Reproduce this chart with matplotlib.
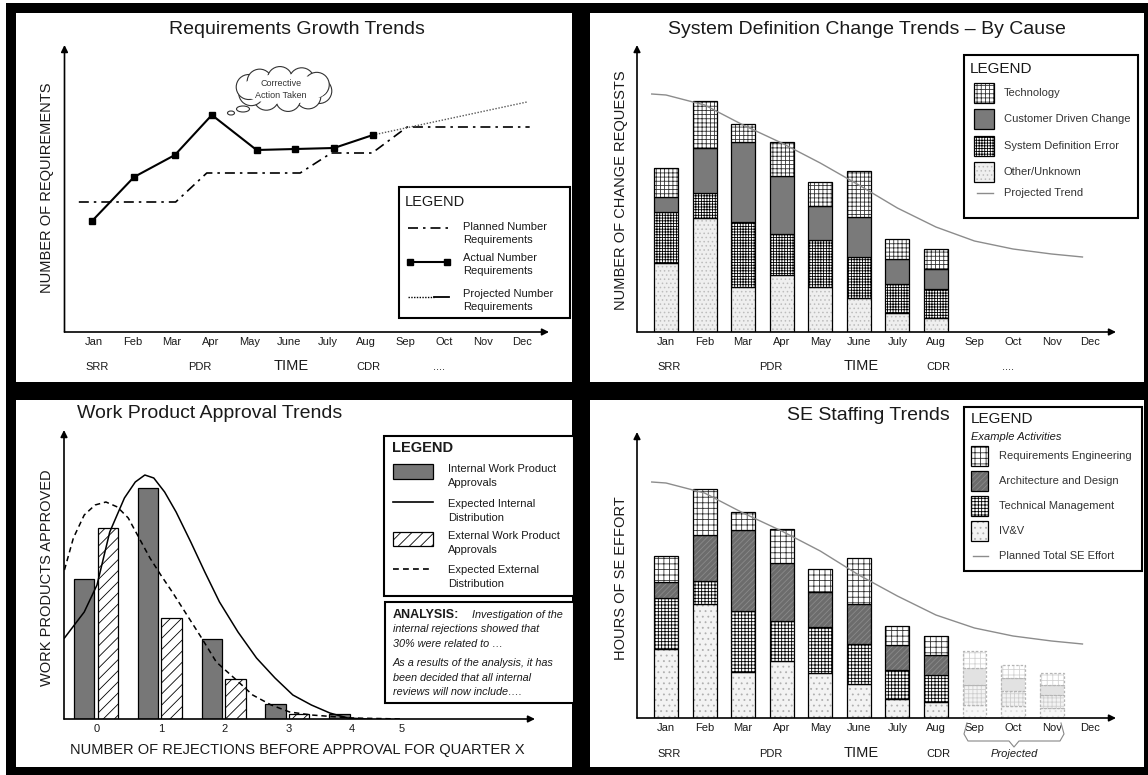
import numpy as np
import matplotlib
matplotlib.use('Agg')
import matplotlib.pyplot as plt
from matplotlib.patches import Rectangle, Ellipse, Circle

plt.rcParams['font.family'] = ['Liberation Sans', 'DejaVu Sans']
plt.rcParams['hatch.linewidth'] = 0.6

W, H = 1148, 775
INK = '#1a1a1a'

# ---------------- data ----------------
months = ['Jan', 'Feb', 'Mar', 'Apr', 'May', 'June', 'July', 'Aug', 'Sep', 'Oct', 'Nov', 'Dec']
milestones = ['SRR', 'PDR', 'CDR', '....']
milestone_x = [0.08, 2.71, 7.06, 8.88]

# requirements growth (relative number of requirements)
actual_x = [-0.05, 1.03, 2.08, 3.03, 4.18, 5.18, 6.17, 7.17]
actual_req = [111, 155, 177, 217, 182, 183, 184, 197]
planned_x = [-0.39, 2.1, 2.9, 5.3, 6.1, 7.15, 8.05, 11.2]
planned_req = [130, 130, 159, 159, 179, 179, 205, 205]
projected_x = [7.17, 11.13]
projected_req = [197, 230]

# system definition change requests by cause (Jan..Aug)
cr_other = [69, 114, 45, 57, 45, 34, 19, 14]
cr_sysdef = [51, 25, 65, 41, 47, 41, 29, 29]
cr_customer = [15, 45, 80, 58, 34, 40, 25, 20]
cr_tech = [29, 47, 18, 34, 24, 46, 20, 20]
cr_trend_x = [-0.37, 0, 1, 2, 3, 4, 5, 6, 7, 8, 9, 10, 10.8]
cr_trend = [238, 237, 227, 207, 189, 169, 147, 124, 105, 91, 83, 78, 75]

# work product approvals
rejections = [0, 1, 2, 3, 4]
internal_appr = [140, 231, 80, 15, 5]
external_appr = [191, 101, 40, 5]
rej_ticks = ['0', '1', '2', '3', '4', '5']
rej_tick_x = [0, 1, 2, 3, 4, 4.78]
exp_int_x = [-0.51, -0.2, 0, 0.2, 0.43, 0.6, 0.75, 0.89, 1.06, 1.24, 1.47, 1.69, 1.92,
             2.21, 2.5, 2.79, 3.07, 3.36, 3.65, 3.93, 4.22]
exp_int = [81, 107, 134, 187, 221, 237, 244, 241, 227, 207, 177, 147, 117,
           87, 61, 41, 24, 14, 6, 1, 0]
exp_ext_x = [-0.51, -0.37, -0.2, -0.03, 0.14, 0.32, 0.49, 0.66, 0.83, 1.0, 1.18, 1.41,
             1.64, 1.87, 2.15, 2.44, 2.73, 3.02, 3.36, 3.99, 4.8]
exp_ext = [149, 181, 204, 214, 217, 212, 201, 181, 161, 144, 127, 104,
           81, 57, 41, 24, 14, 7, 4, 1, 0]

# SE staffing hours (Jan..Aug actual, Sep..Nov projected)
se_ivv = [69, 114, 46, 57, 45, 34, 19, 16]
se_tm = [51, 23, 61, 40, 46, 40, 29, 27]
se_ad = [16, 46, 81, 58, 35, 40, 25, 20]
se_re = [26, 46, 18, 34, 23, 46, 19, 19]
proj_ivv = [13, 12, 10]
proj_tm = [20, 15, 13]
proj_ad = [17, 13, 10]
proj_re = [17, 13, 12]
se_plan_x = [-0.37, 0, 1, 2, 3, 4, 5, 6, 7, 8, 9, 10, 10.8]
se_plan = [236, 235, 225, 205, 187, 167, 143, 122, 103, 90, 82, 77, 74]

# ---------------- figure ----------------
fig = plt.figure(figsize=(W / 100, H / 100), dpi=100)

bg = fig.add_axes([0, 0, 1, 1], zorder=-5, label='bg')
bg.set_xlim(0, W); bg.set_ylim(H, 0); bg.axis('off')
bg.add_patch(Rectangle((6, 3), W, H, facecolor='black', lw=0))
for x0, y0, x1, y1 in [(16, 13, 572, 382), (590, 13, 1144, 382),
                       (16, 400, 572, 767), (590, 400, 1144, 767)]:
    bg.add_patch(Rectangle((x0, y0), x1 - x0, y1 - y0, facecolor='white', lw=0))

ov = fig.add_axes([0, 0, 1, 1], zorder=5, label='overlay')
ov.set_xlim(0, W); ov.set_ylim(H, 0); ov.axis('off')
ov.patch.set_alpha(0)


def txt(x, y, s, size=8, **kw):
    kw.setdefault('va', 'center')
    kw.setdefault('color', INK)
    ov.text(x, y, s, fontsize=size, **kw)


def box(x0, y0, x1, y1, lw=1.5):
    ov.add_patch(Rectangle((x0, y0), x1 - x0, y1 - y0, facecolor='white', edgecolor='black', lw=lw))


def swatch(x0, y0, x1, y1, style):
    face, hatch, hcol = style
    ov.add_patch(Rectangle((x0, y0), x1 - x0, y1 - y0, facecolor=face, hatch=hatch, edgecolor=hcol, lw=0))
    ov.add_patch(Rectangle((x0, y0), x1 - x0, y1 - y0, fill=False, edgecolor='black', lw=0.9))


def chart_axes(left, right, top, bottom, xlim, ylim):
    ax = fig.add_axes([left / W, 1 - bottom / H, (right - left) / W, (bottom - top) / H])
    ax.set_xlim(*xlim)
    ax.set_ylim(*ylim)
    ax.set_facecolor('none')
    for s in ax.spines.values():
        s.set_visible(False)
    ax.set_yticks([])
    ax.tick_params(axis='x', length=0, pad=3.5, labelsize=8, labelcolor=INK)
    for end in [(1, 0), (0, 1)]:
        ax.annotate('', xy=end, xytext=(0, 0), xycoords='axes fraction',
                    arrowprops=dict(arrowstyle='-|>', lw=1.2, color='black',
                                    shrinkA=0, shrinkB=0, mutation_scale=10))
    return ax


def time_row(ax, labels, xs, dy=35):
    for lab, xm in zip(labels, xs):
        ax.annotate(lab, xy=(xm, 0), xycoords=('data', 'axes fraction'), xytext=(0, -dy * 0.72),
                    textcoords='offset points', ha='center', va='center', fontsize=8, color=INK)
    ax.annotate('TIME', xy=(5.07, 0), xycoords=('data', 'axes fraction'), xytext=(0, -(dy - 1) * 0.72),
                textcoords='offset points', ha='center', va='center', fontsize=10.5, color=INK)


def stack(ax, x, layers, styles, width, edge='black', ls='-'):
    bottom = np.zeros(len(x))
    for vals, (face, hatch, hcol) in zip(layers, styles):
        ax.bar(x, vals, width, bottom=bottom, color=face, hatch=hatch, edgecolor=hcol, linewidth=0)
        ax.bar(x, vals, width, bottom=bottom, fill=False, edgecolor=edge, linewidth=0.9, linestyle=ls)
        bottom += np.array(vals)


# ======== Requirements Growth Trends ========
ax1 = chart_axes(64.5, 549, 45, 332, (-0.758, 11.697), (0, 287))
ax1.set_xticks(range(12), months)
ax1.plot(planned_x, planned_req, color='black', lw=1.2, ls=(0, (6, 3, 1.5, 3)))
ax1.plot(projected_x, projected_req, color='#555555', lw=1.0, ls=(0, (1, 1.2)))
ax1.plot(actual_x, actual_req, color='black', lw=1.5, marker='s', ms=5)
time_row(ax1, milestones, milestone_x)

txt(297, 29, 'Requirements Growth Trends', 14, ha='center')
txt(47, 188, 'NUMBER OF REQUIREMENTS', 10.5, ha='center', rotation=90)

# thought cloud
cx, cy = 284, 89
for ang in np.linspace(0, 2 * np.pi, 10, endpoint=False) + 0.2:
    ov.add_patch(Circle((cx + 36 * np.cos(ang), cy + 10 * np.sin(ang)), 12.5,
                        facecolor='white', edgecolor='#333333', lw=0.8))
ov.add_patch(Ellipse((cx, cy), 86, 30, facecolor='white', lw=0))
ov.add_patch(Ellipse((243, 109), 13, 6, facecolor='white', edgecolor='#333333', lw=0.8))
ov.add_patch(Ellipse((231, 113), 7, 4, facecolor='white', edgecolor='#333333', lw=0.8))
txt(cx - 3, 83, 'Corrective', 6.5, ha='center', color='#333333')
txt(cx - 3, 96, 'Action Taken', 6.5, ha='center', color='#333333')

box(399, 187, 570, 318)
txt(405, 202, 'LEGEND', 10.5)
ov.plot([408, 449], [228, 228], color='black', lw=1.2, ls=(0, (6, 3, 1.5, 3)))
ov.plot([410, 447], [262, 262], color='black', lw=1.5, marker='s', ms=4.5)
ov.plot([408, 434], [297, 297], color='black', lw=1.0, ls=(0, (1, 1)))
ov.plot([434, 449], [297, 297], color='black', lw=1.3)
for (l1, l2), yy in zip([('Planned Number', 'Requirements'), ('Actual Number', 'Requirements'),
                         ('Projected Number', 'Requirements')], [227, 258, 294]):
    txt(463, yy, l1, 8)
    txt(463, yy + 13, l2, 8)

# ======== System Definition Change Trends ========
tech_style = ('white', '++++', '#333333')
cust_style = ('#7a7a7a', None, '#7a7a7a')
sys_style = ('white', '++++++', 'black')
other_style = ('#efefef', '....', '#bdbdbd')

ax2 = chart_axes(637, 1116, 45, 332, (-0.752, 11.67), (0, 287))
ax2.set_xticks(range(12), months)
stack(ax2, range(len(cr_other)), [cr_other, cr_sysdef, cr_customer, cr_tech],
      [other_style, sys_style, cust_style, tech_style], 0.62)
ax2.plot(cr_trend_x, cr_trend, color='#8c8c8c', lw=1.0)
time_row(ax2, milestones, milestone_x)

txt(867, 29, 'System Definition Change Trends \u2013 By Cause', 14, ha='center')
txt(621, 190, 'NUMBER OF CHANGE REQUESTS', 10.5, ha='center', rotation=90)

box(964, 55, 1138, 218)
txt(970, 69, 'LEGEND', 11)
for (y0, y1), st, lab in zip([(83, 103), (109, 129), (136, 156), (162, 182)],
                             [tech_style, cust_style, sys_style, other_style],
                             ['Technology', 'Customer Driven Change', 'System Definition Error',
                              'Other/Unknown']):
    swatch(974, y0, 994, y1, st)
    txt(1004, (y0 + y1) / 2, lab, 8, color='#333333')
ov.plot([977, 993], [193, 193], color='#8c8c8c', lw=1.0)
txt(1004, 193, 'Projected Trend', 8, color='#333333')

# ======== Work Product Approval Trends ========
ax3 = chart_axes(64, 535, 430, 719, (-0.517, 6.865), (0, 289))
ax3.set_xticks(rej_tick_x, rej_ticks)
ax3.bar(np.array(rejections) - 0.2, internal_appr, 0.32, color='#777777', edgecolor='black', lw=0.9)
ax3.bar(np.arange(len(external_appr)) + 0.17, external_appr, 0.32, color='white',
        hatch='///', edgecolor='black', lw=0.9)
ax3.plot(exp_int_x, exp_int, color='black', lw=1.1)
ax3.plot(exp_ext_x, exp_ext, color='black', lw=1.1, ls=(0, (3.5, 2.5)))

txt(77, 414, 'Work Product Approval Trends', 14, ha='left')
txt(47, 578, 'WORK PRODUCTS APPROVED', 10.5, ha='center', rotation=90)
txt(297, 750, 'NUMBER OF REJECTIONS BEFORE APPROVAL FOR QUARTER X', 10.5, ha='center')

box(384, 436, 574, 596)
txt(392, 448, 'LEGEND', 10.5, weight='bold')
swatch(393, 464, 433, 479, ('#777777', None, '#777777'))
ov.plot([393, 433], [502, 502], color='black', lw=1.2)
swatch(393, 532, 433, 546, ('white', '///', 'black'))
ov.plot([393, 433], [569, 569], color='black', lw=1.2, ls=(0, (3.5, 2.5)))
for (l1, l2), yy in zip([('Internal Work Product', 'Approvals'), ('Expected Internal', 'Distribution'),
                         ('External Work Product', 'Approvals'), ('Expected External', 'Distribution')],
                        [469, 504, 536, 570]):
    txt(448, yy, l1, 8)
    txt(448, yy + 14, l2, 8)

box(385, 602, 574, 703)
txt(393, 615, 'ANALYSIS:', 9, weight='bold')
txt(472, 615, 'Investigation of the', 7.8, style='italic')
for yy, line in zip([629, 644, 663, 678, 692],
                    ['internal rejections showed that', '30% were related to \u2026',
                     'As a results of the analysis, it has', 'been decided that all internal',
                     'reviews will now include\u2026.']):
    txt(393, yy, line, 7.8, style='italic')

# ======== SE Staffing Trends ========
re_style = ('white', '+++', '#333333')
ad_style = ('#6c6c6c', '//////', '#8a8a8a')
tm_style = ('white', '+++++', 'black')
ivv_style = ('#f3f3f3', '...', '#b0b0b0')
proj_styles = [('#f7f7f7', '...', '#dddddd'), ('#f3f3f3', '++++', '#d0d0d0'),
               ('#e2e2e2', None, '#e2e2e2'), ('white', '+++', '#d4d4d4')]

ax4 = chart_axes(637, 1116, 432, 718, (-0.752, 11.67), (0, 286))
ax4.set_xticks(range(12), months)
stack(ax4, range(len(se_ivv)), [se_ivv, se_tm, se_ad, se_re],
      [ivv_style, tm_style, ad_style, re_style], 0.62)
stack(ax4, [8, 9, 10], [proj_ivv, proj_tm, proj_ad, proj_re], proj_styles, 0.62,
      edge='#b5b5b5', ls=(0, (2, 1.5)))
ax4.plot(se_plan_x, se_plan, color='#8c8c8c', lw=1.0)
time_row(ax4, milestones[:3], milestone_x[:3], dy=36)

txt(868, 416, 'SE Staffing Trends', 14, ha='center')
txt(621, 578, 'HOURS OF SE EFFORT', 10.5, ha='center', rotation=90)
txt(1014, 754, 'Projected', 8, ha='center', style='italic')
ov.plot([967, 964, 968, 1009, 1014, 1019, 1060, 1064, 1061],
        [723, 734, 741, 741, 747, 741, 741, 734, 723], color='#888888', lw=0.8)

box(964, 407, 1142, 571)
txt(971, 419, 'LEGEND', 11)
txt(971, 437, 'Example Activities', 8, style='italic')
for (y0, y1), st, lab in zip([(446, 466), (471, 491), (496, 516), (521, 541)],
                             [re_style, ad_style, tm_style, ivv_style],
                             ['Requirements Engineering', 'Architecture and Design',
                              'Technical Management', 'IV&V']):
    swatch(971, y0, 988, y1, st)
    txt(999, (y0 + y1) / 2, lab, 8, color='#333333')
ov.plot([973, 988], [556, 556], color='#8c8c8c', lw=1.0)
txt(999, 556, 'Planned Total SE Effort', 8, color='#333333')

fig.savefig('out.png', dpi=100)
